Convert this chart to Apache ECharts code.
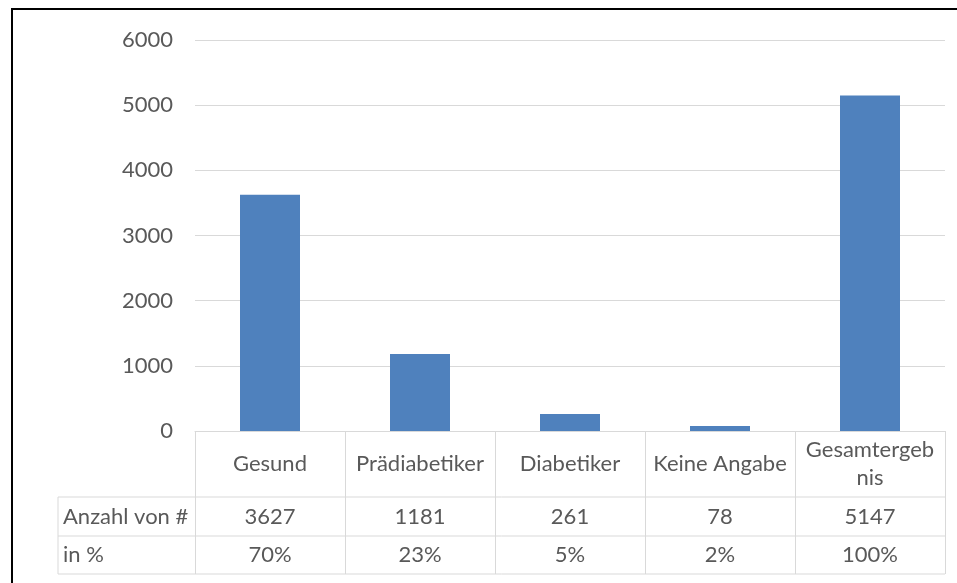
<!DOCTYPE html>
<html>
<head>
<meta charset="utf-8">
<script src="https://cdn.jsdelivr.net/npm/echarts@6/dist/echarts.min.js"></script>
<style>
  html, body { margin: 0; padding: 0; background: #fff; }
  #chart { width: 957px; height: 583px; }
</style>
</head>
<body>
<div id="chart"></div>
<script>
  // data
  const categories = ['Gesund', 'Prädiabetiker', 'Diabetiker', 'Keine Angabe', 'Gesamtergeb\nnis']
  const counts = [3627, 1181, 261, 78, 5147]
  const percents = ['70%', '23%', '5%', '2%', '100%']
  const rowLabels = ['Anzahl von #', 'in %']

  const textColor = '#595959'
  const lineColor = '#d9d9d9'
  const font = 'Lato'
  const fontSize = 22

  // table geometry (below the plot)
  const gridLeft = 195
  const gridRight = 945
  const axisY = 431
  const rowY = [497, 536, 574]
  const tableLeft = 58

  const tableLines = []
  rowY.forEach((y) => {
    tableLines.push({
      type: 'line',
      shape: { x1: tableLeft, y1: y, x2: gridRight, y2: y },
      style: { stroke: lineColor, lineWidth: 1 },
      silent: true,
    })
  })
  tableLines.push({
    type: 'line',
    shape: { x1: tableLeft, y1: rowY[0], x2: tableLeft, y2: rowY[2] },
    style: { stroke: lineColor, lineWidth: 1 },
    silent: true,
  })
  rowLabels.forEach((t, i) => {
    tableLines.push({
      type: 'text',
      x: tableLeft + 5,
      y: (rowY[i] + rowY[i + 1]) / 2,
      style: { text: t, fill: textColor, font: fontSize + 'px ' + font, verticalAlign: 'middle', align: 'left' },
      silent: true,
    })
  })
  // outer frame
  tableLines.push({
    type: 'rect',
    shape: { x: 12, y: 9, width: 1200, height: 800 },
    style: { fill: null, stroke: '#000', lineWidth: 2 },
    silent: true,
  })

  const hiddenAxis = (data, offset, margin) => ({
    type: 'category',
    data: data,
    position: 'bottom',
    offset: offset,
    axisLine: { show: false },
    axisTick: { show: false },
    axisLabel: {
      interval: 0,
      color: textColor,
      fontFamily: font,
      fontSize: fontSize,
      margin: margin,
      verticalAlign: 'middle',
    },
  })

  const options = {
    animation: false,
    grid: { left: gridLeft, right: 957 - gridRight, top: 40, bottom: 583 - axisY },
    xAxis: [
      {
        type: 'category',
        data: categories,
        position: 'bottom',
        boundaryGap: true,
        axisLine: { show: true, lineStyle: { color: lineColor, width: 1 } },
        axisTick: { show: true, length: rowY[2] - axisY, lineStyle: { color: lineColor, width: 1 } },
        axisLabel: {
          interval: 0,
          color: textColor,
          fontFamily: font,
          fontSize: fontSize,
          lineHeight: 28,
          margin: 33,
          verticalAlign: 'middle',
        },
      },
      hiddenAxis(counts, rowY[0] - axisY, 20),
      hiddenAxis(percents, rowY[1] - axisY, 19),
    ],
    yAxis: {
      type: 'value',
      min: 0,
      max: 6000,
      interval: 1000,
      axisLine: { show: false },
      axisTick: { show: false },
      axisLabel: {
        color: textColor,
        fontFamily: font,
        fontSize: fontSize,
        margin: 22,
        formatter: (v) => String(v),
      },
      splitLine: { lineStyle: { color: lineColor, width: 1 } },
    },
    series: [
      {
        type: 'bar',
        data: counts,
        barWidth: '40%',
        itemStyle: { color: '#4f81bd' },
      },
    ],
    graphic: tableLines,
  }

  const chart = echarts.init(document.getElementById('chart'))
  chart.setOption(options)
  window.addEventListener('resize', function () {
    chart && chart.resize()
  })
</script>
</body>
</html>
